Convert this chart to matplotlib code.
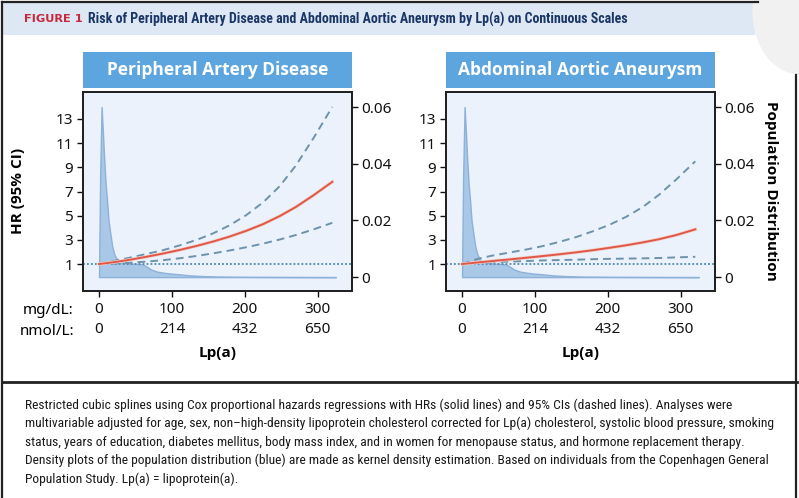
import matplotlib
matplotlib.use("Agg")
import matplotlib.pyplot as plt
from matplotlib import font_manager
from matplotlib.patches import Rectangle, Ellipse
from matplotlib.lines import Line2D
import matplotlib.patheffects as pe

# ---------------- data ----------------
lpa_mgdl = [0, 20, 40, 65, 88, 111, 134, 157, 179, 202, 225, 248, 270, 294, 320]

pad_hr    = [1.0, 1.15, 1.33, 1.6, 1.87, 2.17, 2.5, 2.87, 3.27, 3.75, 4.3, 4.97, 5.72, 6.68, 7.8]
pad_upper = [1.0, 1.25, 1.5, 1.83, 2.15, 2.55, 3.0, 3.55, 4.2, 5.05, 6.1, 7.45, 9.15, 11.4, 14.0]
pad_lower = [1.0, 1.04, 1.1, 1.2, 1.32, 1.48, 1.67, 1.89, 2.12, 2.39, 2.69, 3.03, 3.4, 3.86, 4.41]

aaa_hr    = [1.0, 1.12, 1.24, 1.38, 1.52, 1.66, 1.81, 1.97, 2.14, 2.34, 2.55, 2.79, 3.05, 3.4, 3.87]
aaa_upper = [1.0, 1.4, 1.68, 1.95, 2.2, 2.49, 2.84, 3.24, 3.7, 4.24, 4.9, 5.72, 6.72, 8.0, 9.5]
aaa_lower = [1.0, 1.1, 1.15, 1.2, 1.25, 1.3, 1.33, 1.36, 1.4, 1.43, 1.45, 1.47, 1.5, 1.55, 1.6]

dens_x = [0, 0.5, 1.5, 3.5, 5.5, 7, 9, 11, 13, 15.5, 18, 21, 25, 30, 40, 50, 60, 66, 72,
          80, 90, 100, 110, 125, 140, 160, 200, 260, 325]
dens_y = [0.0, 0.012, 0.035, 0.06, 0.05, 0.042, 0.033, 0.027, 0.02, 0.0154, 0.011, 0.008,
          0.006, 0.0052, 0.0048, 0.0047, 0.0045, 0.0036, 0.0026, 0.0019, 0.0015, 0.0012,
          0.001, 0.0006, 0.0004, 0.0002, 0.0001, 0.00005, 0.0]

panel_titles = ["Peripheral Artery Disease", "Abdominal Aortic Aneurysm"]
hr_ticks = [1, 3, 5, 7, 9, 11, 13]
dens_ticks = [0, 0.02, 0.04, 0.06]
dens_tick_labels = ["0", "0.02", "0.04", "0.06"]
x_ticks = [0, 100, 200, 300]
x_tick_mgdl = ["0", "100", "200", "300"]
x_tick_nmol = ["0", "214", "432", "650"]

caption_lines = [
    "Restricted cubic splines using Cox proportional hazards regressions with HRs (solid lines) and 95% CIs (dashed lines). Analyses were",
    "multivariable adjusted for age, sex, non\u2013high-density lipoprotein cholesterol corrected for Lp(a) cholesterol, systolic blood pressure, smoking",
    "status, years of education, diabetes mellitus, body mass index, and in women for menopause status, and hormone replacement therapy.",
    "Density plots of the population distribution (blue) are made as kernel density estimation. Based on individuals from the Copenhagen General",
    "Population Study. Lp(a) = lipoprotein(a).",
]

# ---------------- fonts ----------------
entries = font_manager.fontManager.ttflist
avail = {f.name for f in entries}
def has_bold(name):
    return any(f.name == name and (f.weight in ("bold", 700, 600, "semibold", "demibold")
               or (isinstance(f.weight, int) and f.weight >= 600)) for f in entries)
def pick(names, bold=False):
    for n in names:
        if n in avail and (not bold or has_bold(n)):
            return n
    return "DejaVu Sans"

narrow = pick(["Liberation Sans Narrow", "Roboto Condensed", "Liberation Sans"])
narrow_b = pick(["Liberation Sans Narrow", "Roboto Condensed", "Liberation Sans"], bold=True)
tickfont = pick(["Noto Sans", "Open Sans", "DejaVu Sans"])
boldfont = pick(["Noto Sans", "Open Sans", "Roboto", "Lato"], bold=True)

plt.rcParams['font.family'] = [tickfont, 'DejaVu Sans']

W, H = 799, 498
fig = plt.figure(figsize=(W / 100, H / 100), dpi=100)
fig.patch.set_facecolor("white")

def fx(px):
    return px / W
def fy(py):
    return 1 - py / H

# frame & header
fig.patches.append(Rectangle((fx(3), fy(35)), fx(752), (32) / H, transform=fig.transFigure,
                             facecolor="#dde8f4", edgecolor="none", zorder=0))
fig.patches.append(Ellipse((fx(800), fy(12)), 95 / W, 125 / H, transform=fig.transFigure,
                           facecolor="#f1f1f1", edgecolor="none", zorder=0))
fig.lines.append(Line2D([fx(2), fx(758)], [fy(2), fy(2)], transform=fig.transFigure, color="#222222", lw=1.6))
fig.lines.append(Line2D([fx(2), fx(2)], [fy(2), fy(498)], transform=fig.transFigure, color="#222222", lw=1.6))
fig.lines.append(Line2D([fx(796), fx(796)], [fy(75), fy(498)], transform=fig.transFigure, color="#222222", lw=1.6))
fig.lines.append(Line2D([fx(2), fx(797)], [fy(382), fy(382)], transform=fig.transFigure, color="#222222", lw=2.0))

fig.text(fx(24), fy(19), "FIGURE 1", color="#c8283c", fontsize=8.2, fontweight="bold",
         family=["DejaVu Sans"], va="center", ha="left")
fig.text(fx(88), fy(19), "Risk of Peripheral Artery Disease and Abdominal Aortic Aneurysm by Lp(a) on Continuous Scales",
         color="#1b3666", fontsize=10.0, fontweight="bold", family=[narrow_b, "DejaVu Sans"], va="center", ha="left")

for i, line in enumerate(caption_lines):
    fig.text(fx(25), fy(405 + 18.5 * i), line, fontsize=9.7, color="#1a1a1a",
             family=[narrow, "DejaVu Sans"], va="center", ha="left")

# ---------------- panels ----------------
panels = [
    (83, pad_hr, pad_upper, pad_lower),
    (446, aaa_hr, aaa_upper, aaa_lower),
]
ax_w, ax_top, ax_bot = 269, 92, 291

for k, (left, hr, up, lo) in enumerate(panels):
    ax = fig.add_axes([fx(left), fy(ax_bot), ax_w / W, (ax_bot - ax_top) / H])
    ax2 = ax.twinx()
    ax.set_zorder(ax2.get_zorder() + 1)
    ax.patch.set_visible(False)
    ax2.patch.set_visible(True)
    ax2.patch.set_facecolor("#ebf2fb")

    ax2.fill_between(dens_x, dens_y, 0, color="#a9c8e8", edgecolor="#8eb1d8", lw=1.0, zorder=1)
    ax2.set_ylim(-0.0049, 0.0653)
    ax2.set_yticks(dens_ticks)
    ax2.set_yticklabels(dens_tick_labels)

    ax.axhline(1, color="#4c86b0", lw=1.3, ls=(0, (1, 1.2)), zorder=2)
    ax.plot(lpa_mgdl, up, color="#6e92ab", lw=1.4, ls=(0, (4, 2.6)), zorder=3)
    ax.plot(lpa_mgdl, lo, color="#6e92ab", lw=1.4, ls=(0, (4, 2.6)), zorder=3)
    ax.plot(lpa_mgdl, hr, color="#df5848", lw=1.4, zorder=4,
            path_effects=[pe.Stroke(linewidth=2.4, foreground="#f4cfc9"), pe.Normal()])

    ax.set_xlim(-22, 347)
    ax.set_ylim(-1.23, 15.23)
    ax.set_yticks(hr_ticks)
    ax.set_xticks(x_ticks)
    ax.set_xticklabels([f"{a}\n{b}" for a, b in zip(x_tick_mgdl, x_tick_nmol)], linespacing=1.45)

    for a in (ax, ax2):
        for s in a.spines.values():
            s.set_linewidth(1.4)
            s.set_color("#222222")
        a.tick_params(direction="out", length=4, width=1.0, labelsize=11, colors="#111111", pad=3)
    ax.tick_params(axis="x", pad=4)

    cx = left + ax_w / 2
    fig.text(fx(cx), fy(353), "Lp(a)", fontsize=11, fontweight="bold", family=[boldfont, "DejaVu Sans"],
             ha="center", va="center")

    # title box
    fig.patches.append(Rectangle((fx(left), fy(88)), ax_w / W, 36 / H, transform=fig.transFigure,
                                 facecolor="#5ca5de", edgecolor="none"))
    fig.text(fx(cx), fy(70), panel_titles[k], fontsize=12.5, fontweight="bold", color="white",
             family=[boldfont, "DejaVu Sans"], ha="center", va="center")

fig.text(fx(74), fy(310), "mg/dL:", fontsize=11, ha="right", va="center")
fig.text(fx(74), fy(331), "nmol/L:", fontsize=11, ha="right", va="center")
fig.text(fx(18), fy(191), "HR (95% CI)", fontsize=11, fontweight="bold", rotation=90,
         family=[boldfont, "DejaVu Sans"], ha="center", va="center")
fig.text(fx(771), fy(191), "Population Distribution", fontsize=11, fontweight="bold", rotation=-90,
         family=[boldfont, "DejaVu Sans"], ha="center", va="center")

fig.savefig("out.png", dpi=100)
